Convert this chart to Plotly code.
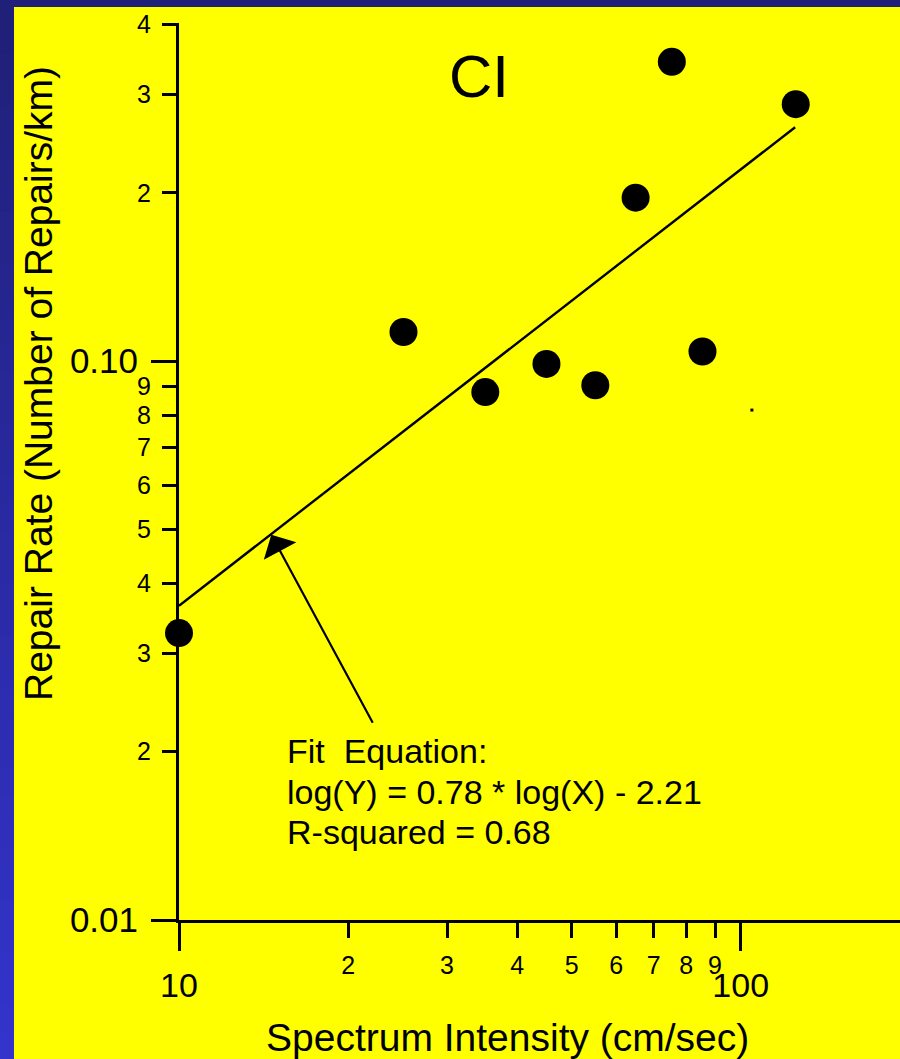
import plotly.graph_objects as go
import numpy as np

# ---- data ----
si_cm_per_sec = [10.0, 25.1, 35.1, 45.1, 55.1, 65.0, 75.4, 85.5, 125.3]
repair_rate = [0.0326, 0.1127, 0.088, 0.0988, 0.0905, 0.196, 0.343, 0.104, 0.288]

fit_x = [10.0, 125.0]
fit_y = [0.0365, 0.262]

stray_x = [104.7]
stray_y = [0.0817]

x_minor_vals = [20, 30, 40, 50, 60, 70, 80, 90]
x_minor_text = ["2", "3", "4", "5", "6", "7", "8", "9"]
x_major_vals = [10, 100]
x_major_text = ["10", "100"]

y_minor_vals = [0.02, 0.03, 0.04, 0.05, 0.06, 0.07, 0.08, 0.09, 0.2, 0.3, 0.4]
y_minor_text = ["2", "3", "4", "5", "6", "7", "8", "9", "2", "3", "4"]
y_major_vals = [0.01, 0.1]
y_major_text = ["0.01", "0.10"]

fit_text_lines = ["Fit  Equation:", "log(Y) = 0.78 * log(X) - 2.21", "R-squared = 0.68"]

arrow_head = (14.6, 0.0489)
arrow_tail = (22.2, 0.0224)

x_range = [1.0, 2.2836]
y_range = [-2.0, -0.3953]

FONT = "Liberation Sans, Arial, sans-serif"
W, H = 900, 1059
L, R, T, B = 179, 0, 23, 139
PW, PH = W - L - R, H - T - B


def px_x(p):
    return (p - L) / PW


def px_y(p):
    return (H - B - p) / PH


fig = go.Figure()

fig.add_trace(go.Scatter(
    x=fit_x, y=fit_y, mode="lines", cliponaxis=False,
    line=dict(color="black", width=2.4), showlegend=False, hoverinfo="skip"))

fig.add_trace(go.Scatter(
    x=si_cm_per_sec, y=repair_rate, mode="markers", cliponaxis=False,
    marker=dict(color="black", size=28), showlegend=False))

fig.add_trace(go.Scatter(
    x=stray_x, y=stray_y, mode="markers",
    marker=dict(color="black", size=3, symbol="square"), showlegend=False,
    hoverinfo="skip"))

# dummy trace on the overlay axes so they render
fig.add_trace(go.Scatter(x=[None], y=[None], xaxis="x2", yaxis="y2",
                         showlegend=False, hoverinfo="skip"))

# background: blue frame on the top and left (gradient on the left strip)
shapes = []
nb = 40
for i in range(nb):
    # draw from the bottom band upward, each rect reaching the top edge
    k = nb - 1 - i
    t = k / (nb - 1)
    r = int(32 + (52 - 32) * t)
    b = int(120 + (205 - 120) * t)
    shapes.append(dict(type="rect", xref="paper", yref="paper",
                       x0=px_x(0), x1=px_x(14),
                       y0=px_y(H * (k + 1) / nb), y1=px_y(0),
                       fillcolor=f"rgb({r},{r},{b})", line_width=0, layer="below"))
shapes.append(dict(type="rect", xref="paper", yref="paper",
                   x0=px_x(0), x1=px_x(W), y0=px_y(7), y1=px_y(0),
                   fillcolor="rgb(32,32,120)", line_width=0, layer="below"))

annotations = [
    dict(text="CI", xref="paper", yref="paper", x=px_x(479), y=px_y(77),
         xanchor="center", yanchor="middle",
         showarrow=False, font=dict(size=60, family=FONT, color="black")),
    dict(text="Spectrum Intensity (cm/sec)", xref="paper", yref="paper",
         x=px_x(507), y=px_y(1037), xanchor="center", yanchor="middle",
         showarrow=False, font=dict(size=39, family=FONT, color="black")),
    dict(text="Repair Rate (Number of Repairs/km)", xref="paper", yref="paper",
         x=px_x(38), y=px_y(384), textangle=-90, xanchor="center",
         yanchor="middle", showarrow=False,
         font=dict(size=39, family=FONT, color="black")),
    dict(text="", x=np.log10(arrow_head[0]), y=np.log10(arrow_head[1]),
         xref="x", yref="y", axref="x", ayref="y",
         ax=np.log10(arrow_tail[0]), ay=np.log10(arrow_tail[1]),
         showarrow=True, arrowhead=1, arrowsize=2.8, arrowwidth=2.2,
         arrowcolor="black"),
]
line_centers = [751, 792, 832]
for txt, cy in zip(fit_text_lines, line_centers):
    annotations.append(dict(
        text=txt, xref="paper", yref="paper", x=px_x(285), y=px_y(cy),
        xanchor="left", yanchor="middle", align="left", showarrow=False,
        font=dict(size=34, family=FONT, color="black")))

axis_common = dict(type="log", showgrid=False, zeroline=False, ticks="outside",
                   tickwidth=3, tickcolor="black")

fig.update_layout(
    width=W, height=H,
    margin=dict(l=L, r=R, t=T, b=B, pad=0),
    paper_bgcolor="#ffff00", plot_bgcolor="#ffff00",
    showlegend=False,
    shapes=shapes, annotations=annotations,
    xaxis=dict(**axis_common, range=x_range, tickmode="array",
               tickvals=x_minor_vals, ticktext=x_minor_text, ticklen=15,
               tickfont=dict(size=25, family=FONT, color="black"),
               showline=True, linewidth=3, linecolor="black",
               ticklabelstandoff=6),
    xaxis2=dict(**axis_common, range=x_range, tickmode="array",
                tickvals=x_major_vals, ticktext=x_major_text, ticklen=30,
                tickfont=dict(size=34, family=FONT, color="black"),
                overlaying="x", anchor="y", side="bottom", showline=False,
                ticklabelstandoff=5),
    yaxis=dict(**axis_common, range=y_range, tickmode="array",
               tickvals=y_minor_vals, ticktext=y_minor_text, ticklen=14,
               tickfont=dict(size=25, family=FONT, color="black"),
               showline=True, linewidth=3, linecolor="black",
               ticklabelstandoff=6),
    yaxis2=dict(**axis_common, range=y_range, tickmode="array",
                tickvals=y_major_vals, ticktext=y_major_text, ticklen=27,
                tickfont=dict(size=35, family=FONT, color="black"),
                overlaying="y", anchor="x", side="left", showline=False,
                ticklabelstandoff=6),
)

fig.write_html("out.html")
